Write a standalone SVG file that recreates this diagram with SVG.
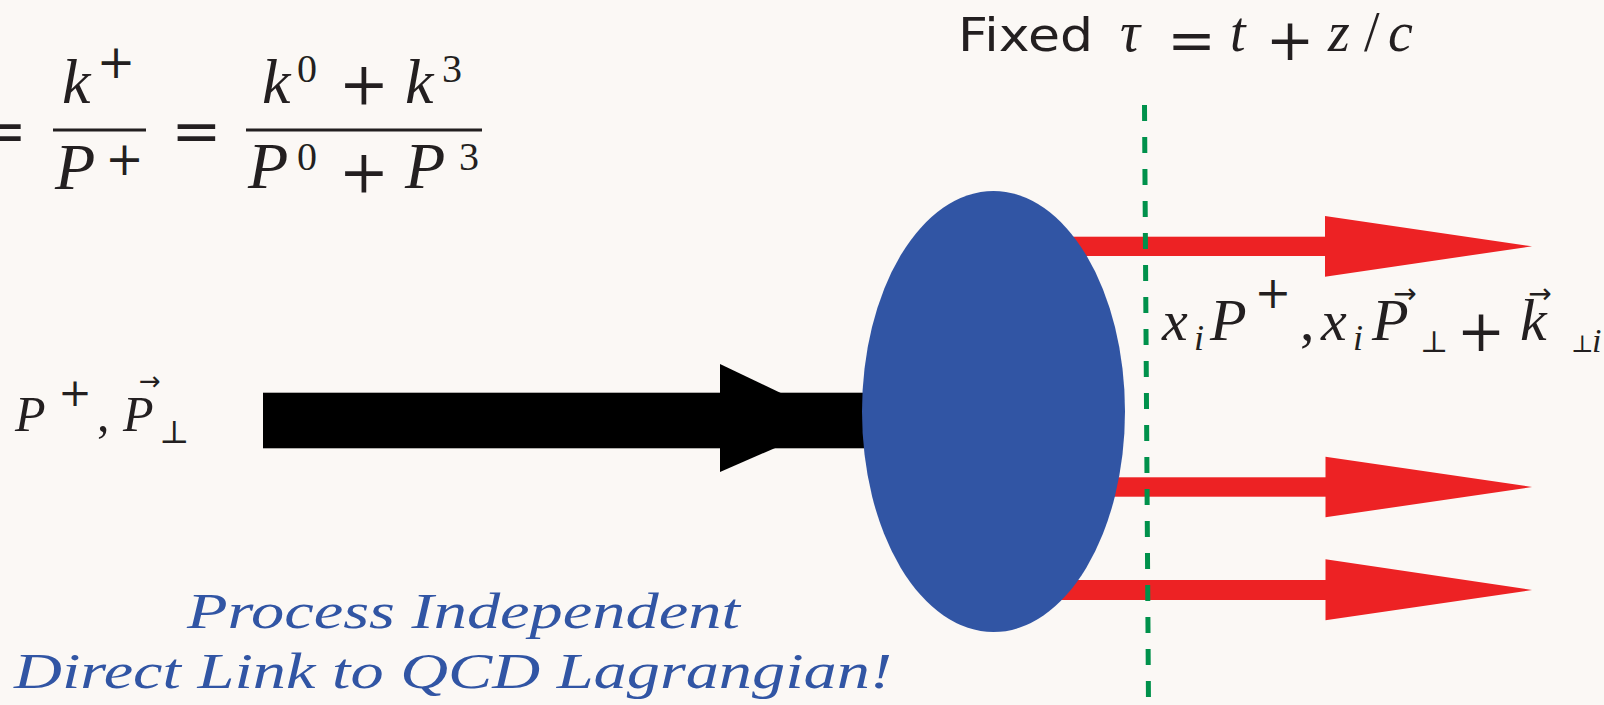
<svg xmlns="http://www.w3.org/2000/svg" width="1604" height="705" viewBox="0 0 1604 705">
  <defs>
    <style>
      .it { font-family: "Liberation Serif", "DejaVu Serif", serif; font-style: italic; fill: #231F20; }
      .rm { font-family: "Liberation Serif", "DejaVu Serif", serif; fill: #231F20; }
      .op { font-family: "DejaVu Serif", "Liberation Serif", serif; fill: #231F20; text-anchor: middle; }
      .acc { font-family: "DejaVu Sans", sans-serif; fill: #231F20; text-anchor: middle; }
      .sans { font-family: "DejaVu Sans", "Liberation Sans", sans-serif; fill: #231F20; }
      .bar { fill: #231F20; }
      .red { fill: #ED2224; }
      .note { font-family: "Liberation Serif", "DejaVu Serif", serif; font-style: italic; fill: #3155A4; font-size: 50px; }
    </style>
  </defs>

  <rect x="0" y="0" width="1604" height="705" fill="#FBF8F5"/>

  <!-- light-cone momentum fraction: x = k+/P+ = (k0+k3)/(P0+P3) -->
  <g id="momentum-fraction">
    <text class="op" x="2" y="150.5" font-size="60">=</text>
    <text class="it" x="62" y="103" font-size="64">k</text>
    <text class="op" x="116" y="78" font-size="46">+</text>
    <rect class="bar" x="53" y="128.5" width="93" height="3"/>
    <text class="it" x="55" y="189" font-size="66">P</text>
    <text class="op" x="124.5" y="175" font-size="46">+</text>
    <text class="op" x="196.5" y="150.5" font-size="60">=</text>
    <text class="it" x="262" y="103" font-size="64">k</text>
    <text class="rm" x="297" y="82" font-size="40">0</text>
    <text class="op" x="364" y="104" font-size="60">+</text>
    <text class="it" x="405" y="103" font-size="64">k</text>
    <text class="rm" x="442" y="82" font-size="40">3</text>
    <rect class="bar" x="246" y="128.5" width="236" height="3"/>
    <text class="it" x="248" y="188" font-size="66">P</text>
    <text class="rm" x="297" y="170" font-size="40">0</text>
    <text class="op" x="364" y="192" font-size="60">+</text>
    <text class="it" x="405" y="188" font-size="66">P</text>
    <text class="rm" x="459" y="170" font-size="40">3</text>
  </g>

  <!-- light-front time slice -->
  <g id="fixed-tau">
    <text class="sans" x="958" y="51" font-size="47" textLength="135" lengthAdjust="spacingAndGlyphs">Fixed</text>
    <text class="it" x="1120" y="51" font-size="56">τ</text>
    <text class="op" x="1191.5" y="60" font-size="58">=</text>
    <text class="it" x="1230" y="51" font-size="56">t</text>
    <text class="op" x="1290" y="59.5" font-size="58">+</text>
    <text class="it" x="1328" y="51" font-size="56">z</text>
    <text class="rm" x="1364" y="51" font-size="56">/</text>
    <text class="it" x="1388" y="51" font-size="56">c</text>
  </g>

  <!-- connectors: incoming hadron and outgoing constituents -->
  <g id="connectors">
    <g id="incoming-hadron">
      <rect x="263" y="392.7" width="610" height="55.6" fill="#000"/>
      <polygon points="720,364 838,420.5 720,472" fill="#000"/>
    </g>
    <g id="constituent-1">
      <rect class="red" x="1000" y="236.7" width="326" height="19.3"/>
      <polygon class="red" points="1325,216 1532,246.3 1325,276.7"/>
    </g>
    <g id="constituent-2">
      <rect class="red" x="1000" y="477.3" width="326" height="19.4"/>
      <polygon class="red" points="1325.5,456.7 1532,487 1325.5,517.3"/>
    </g>
    <g id="constituent-3">
      <rect class="red" x="1000" y="580" width="326" height="20"/>
      <polygon class="red" points="1325.5,559.3 1532,590 1325.5,620.3"/>
    </g>
  </g>

  <!-- hadron bound state -->
  <g id="hadron">
    <ellipse cx="993.5" cy="411.5" rx="131.5" ry="220.5" fill="#3155A4"/>
  </g>

  <!-- equal light-front time surface -->
  <g id="tau-surface">
    <line x1="1144.5" y1="105" x2="1148.5" y2="705" stroke="#00914B" stroke-width="5" stroke-dasharray="16 16"/>
  </g>

  <!-- incoming momentum label -->
  <g id="hadron-momentum">
    <text class="rm" x="15" y="431" font-size="50" font-style="italic">P</text>
    <text class="op" x="75" y="406" font-size="40">+</text>
    <text class="rm" x="97" y="431" font-size="50">,</text>
    <text class="rm" x="123" y="431" font-size="50" font-style="italic">P</text>
    <text class="acc" x="150" y="390" font-size="26">→</text>
    <text class="rm" x="159" y="443" font-size="32">⊥</text>
  </g>

  <!-- constituent momentum label -->
  <g id="constituent-momentum">
    <text class="it" x="1162" y="340" font-size="58">x</text>
    <text class="it" x="1194" y="350" font-size="36">i</text>
    <text class="it" x="1210" y="340" font-size="60">P</text>
    <text class="op" x="1273" y="308" font-size="44">+</text>
    <text class="rm" x="1300" y="340" font-size="58">,</text>
    <text class="it" x="1321" y="340" font-size="58">x</text>
    <text class="it" x="1353" y="350" font-size="36">i</text>
    <text class="it" x="1372" y="340" font-size="60">P</text>
    <text class="acc" x="1405" y="303" font-size="28">→</text>
    <text class="rm" x="1420" y="352" font-size="30">⊥</text>
    <text class="op" x="1481" y="351" font-size="58">+</text>
    <text class="it" x="1520" y="340" font-size="60">k</text>
    <text class="acc" x="1540" y="303" font-size="28">→</text>
    <text class="rm" x="1571" y="352" font-size="24">⊥</text>
    <text class="it" x="1592" y="352" font-size="34">i</text>
  </g>

  <!-- caption -->
  <g id="caption">
    <text class="note" x="187" y="628" textLength="553" lengthAdjust="spacingAndGlyphs">Process Independent</text>
    <text class="note" x="14" y="688" textLength="878" lengthAdjust="spacingAndGlyphs">Direct Link to QCD Lagrangian!</text>
  </g>
</svg>
